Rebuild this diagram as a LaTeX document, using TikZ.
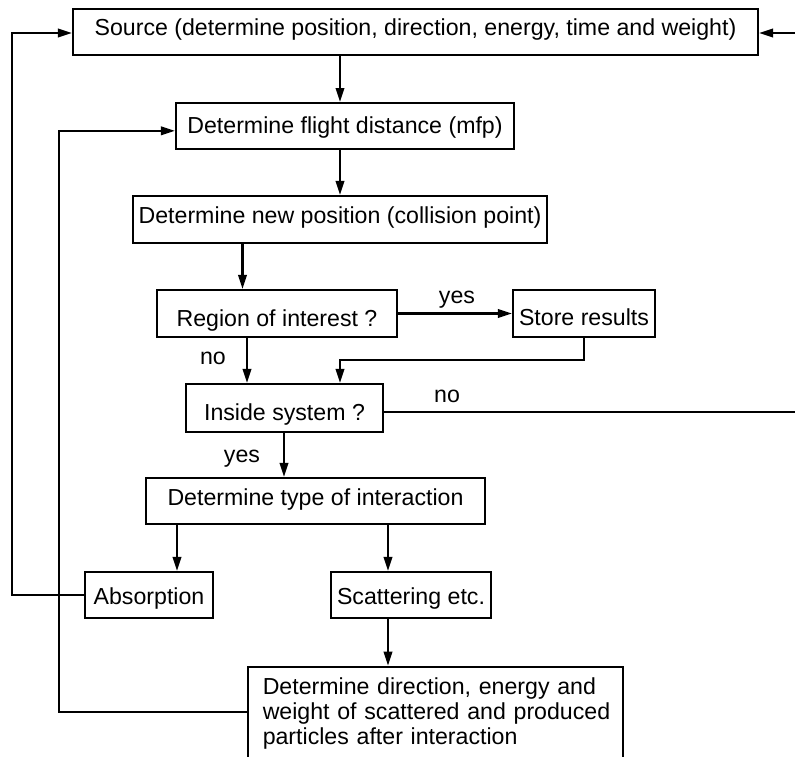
\documentclass[tikz,border=0pt]{standalone}
\usepackage{fontspec}
\setmainfont{Liberation Sans}
\usetikzlibrary{arrows.meta}
\begin{document}
\begin{tikzpicture}[x=1pt,y=-1pt,
  txt/.style={font=\fontsize{23.15}{25}\selectfont},
  box/.style={draw, line width=2.1pt, inner sep=0pt, txt, text depth=6pt, text height=#1},
  arr/.style={line width=2.1pt, -{Triangle[length=14pt,width=8.5pt]}},
  lbl/.style={txt, anchor=base, inner sep=0pt}]
\useasboundingbox (0,0) rectangle (795,756);
\clip (0,0) rectangle (795,756);
% boxes
\node[box=13.6pt, minimum width=685pt, minimum height=46pt] (src) at (415.5,32)
  {Source (determine position, direction, energy, time and weight)};
\node[box=21pt, minimum width=338pt, minimum height=45.5pt] (flight) at (345,125.8)
  {Determine flight distance (mfp)};
\node[box=14pt, minimum width=414pt, minimum height=47pt] (newpos) at (340,219.5)
  {Determine new position (collision point)};
\node[box=32.4pt, minimum width=240pt, minimum height=47pt] (region) at (277,313.5)
  {Region of interest ?};
\node[box=29pt, minimum width=142pt, minimum height=47pt] (store) at (584,313.5)
  {Store results};
\node[box=30pt, minimum width=197pt, minimum height=48pt] (inside) at (284.5,408)
  {Inside system ?};
\node[box=14pt, minimum width=339pt, minimum height=46pt] (type) at (315.5,501)
  {Determine type of interaction};
\node[box=24pt, minimum width=128pt, minimum height=46pt] (abs) at (149,595)
  {Absorption};
\node[box=24pt, minimum width=160pt, minimum height=46pt] (scat) at (411,595)
  {Scattering etc.};
\node[draw, line width=2.1pt, txt, anchor=north west, align=left, text width=345.6pt,
  inner xsep=14.7pt, inner ysep=10.7pt] (bot) at (247,665.7)
  {\mbox{Determine direction, energy and}\\
   \mbox{weight of scattered and produced}\\
   \mbox{particles after interaction}\rule[-20pt]{0pt}{0pt}};
% helper coordinates
\coordinate (xL) at (12,0);
\coordinate (xL2) at (59,0);
\coordinate (xR) at (805,0);
\coordinate (x340) at (340,0);
\coordinate (x242) at (242.5,0);
\coordinate (x247) at (247,0);
\coordinate (x284) at (284,0);
\coordinate (x177) at (177,0);
\coordinate (x388) at (388,0);
\coordinate (y360) at (0,360);
% connectors
\draw[arr] (src.south -| x340) -- (flight.north -| x340);
\draw[arr] (flight.south -| x340) -- (newpos.north -| x340);
\draw[arr] (newpos.south -| x242) -- (region.north -| x242);
\draw[arr] (region.east) -- (store.west);
\draw[arr] (region.south -| x247) -- (inside.north -| x247);
\draw[arr] (store.south) -- (store.south |- y360) -- (y360 -| x340) -- (inside.north -| x340);
\draw[arr] (inside.south -| x284) -- (type.north -| x284);
\draw[arr] (type.south -| x177) -- (abs.north -| x177);
\draw[arr] (type.south -| x388) -- (scat.north -| x388);
\draw[arr] (scat.south -| x388) -- (bot.north -| x388);
\draw[arr] (abs.west) -- (abs.west -| xL) -- ([yshift=-1pt]src.west -| xL) -- ([yshift=-1pt]src.west);
\draw[arr] ([yshift=-46pt]bot.north west) -- ([yshift=-46pt]bot.north west -| xL2)
  -- ([yshift=-5pt]flight.west -| xL2) -- ([yshift=-5pt]flight.west);
\draw[arr] ([yshift=-4pt]inside.east) -- ([yshift=-4pt]inside.east -| xR)
  -- ([yshift=-1pt]src.east -| xR) -- ([yshift=-1pt]src.east);
% labels
\node[lbl] (lyes1) at (457,303) {yes};
\node[lbl] (lno1) at (213,364) {no};
\node[lbl] (lno2) at (447,402) {no};
\node[lbl] (lyes2) at (242,462) {yes};
\end{tikzpicture}
\end{document}
